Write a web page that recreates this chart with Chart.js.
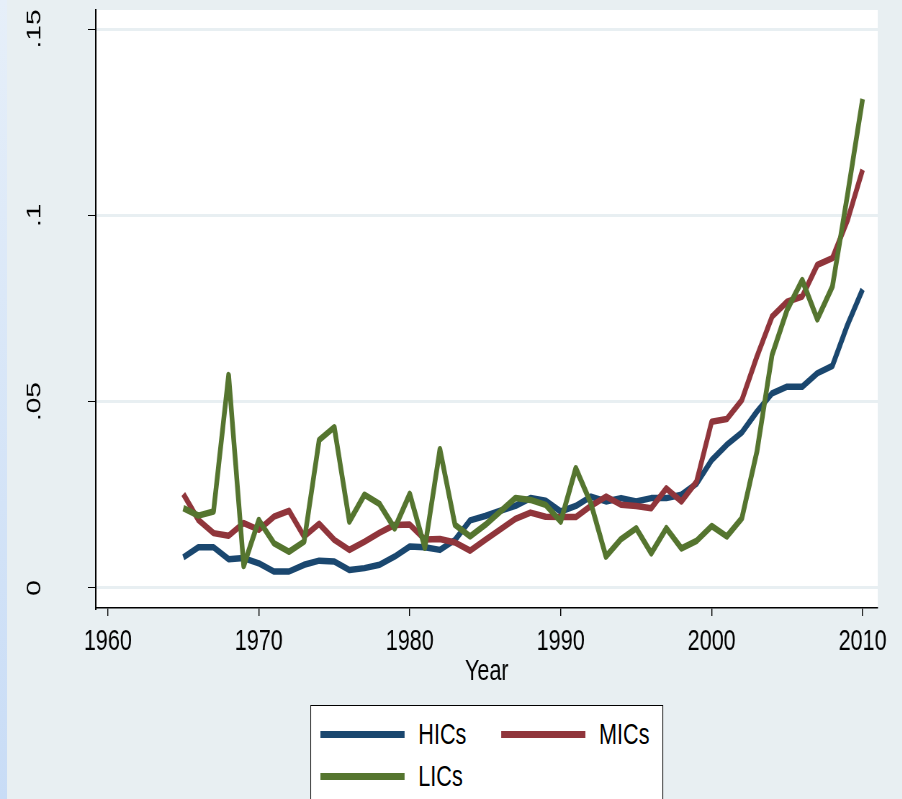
<!DOCTYPE html>
<html>
<head>
<meta charset="utf-8">
<script src="https://cdn.jsdelivr.net/npm/chart.js@4.4.1/dist/chart.umd.min.js"></script>
<style>
  html, body { margin: 0; padding: 0; }
  body {
    width: 902px; height: 799px; overflow: hidden; position: relative;
    background: #e8eff2;
    font-family: "Liberation Sans", Arial, sans-serif;
  }
  #edge {
    position: absolute; left: 0; top: 0; width: 7px; height: 799px;
    background: linear-gradient(to bottom, #e6eff9, #c8dcf6);
  }
  /* the reference is squeezed horizontally, so draw wide and scale down */
  #wrap {
    position: absolute; left: 0; top: 0; width: 1253px; height: 799px;
    transform: scaleX(0.72); transform-origin: 0 0;
  }
  #chart { position: absolute; left: 0; top: 0; }
  #legend {
    position: absolute; left: 431px; top: 705px; width: 490px; height: 120px;
    background: #fff; border: 1.4px solid #000; box-sizing: border-box;
  }
  .item { position: absolute; height: 34px; display: flex; align-items: center; }
  .swatch { width: 117px; height: 7px; margin-right: 19px; }
  .label { font-size: 30px; color: #000; white-space: nowrap; }
</style>
</head>
<body>
<div id="edge"></div>
<div id="wrap">
  <canvas id="chart" width="1253" height="700"></canvas>
  <div id="legend"></div>
</div>
<script>
// data
const years = [1965, 1966, 1967, 1968, 1969, 1970, 1971, 1972, 1973, 1974,
  1975, 1976, 1977, 1978, 1979, 1980, 1981, 1982, 1983, 1984,
  1985, 1986, 1987, 1988, 1989, 1990, 1991, 1992, 1993, 1994,
  1995, 1996, 1997, 1998, 1999, 2000, 2001, 2002, 2003, 2004,
  2005, 2006, 2007, 2008, 2009, 2010];

const hics = [0.0082, 0.0109, 0.0109, 0.0077, 0.0080, 0.0066, 0.0044, 0.0044, 0.0062, 0.0073,
  0.0071, 0.0048, 0.0053, 0.0062, 0.0084, 0.0111, 0.0109, 0.0102, 0.0129, 0.0181,
  0.0193, 0.0207, 0.0220, 0.0241, 0.0234, 0.0205, 0.0220, 0.0245, 0.0232, 0.0241,
  0.0232, 0.0241, 0.0241, 0.0250, 0.0280, 0.0343, 0.0384, 0.0417, 0.0473, 0.0522,
  0.0540, 0.0540, 0.0576, 0.0596, 0.0706, 0.0801];

const mics = [0.0252, 0.0182, 0.0147, 0.0140, 0.0174, 0.0156, 0.0191, 0.0207, 0.0138, 0.0172,
  0.0129, 0.0102, 0.0124, 0.0148, 0.0169, 0.0170, 0.0130, 0.0131, 0.0122, 0.0100,
  0.0129, 0.0157, 0.0185, 0.0202, 0.0191, 0.0190, 0.0190, 0.0220, 0.0245, 0.0223,
  0.0220, 0.0214, 0.0267, 0.0232, 0.0285, 0.0446, 0.0453, 0.0504, 0.0621, 0.0728,
  0.0768, 0.0782, 0.0867, 0.0885, 0.0987, 0.1122];

const lics = [0.0214, 0.0194, 0.0205, 0.0571, 0.0059, 0.0182, 0.0120, 0.0097, 0.0124, 0.0397,
  0.0431, 0.0178, 0.0250, 0.0225, 0.0160, 0.0252, 0.0108, 0.0372, 0.0169, 0.0138,
  0.0169, 0.0205, 0.0241, 0.0236, 0.0223, 0.0178, 0.0321, 0.0227, 0.0084, 0.0131,
  0.0160, 0.0093, 0.0160, 0.0106, 0.0126, 0.0166, 0.0138, 0.0187, 0.0366, 0.0625,
  0.0746, 0.0826, 0.0721, 0.0809, 0.1055, 0.1312];

const xTicks = [1960, 1970, 1980, 1990, 2000, 2010];
const yTicks = [0, 0.05, 0.1, 0.15];
const yTickLabels = ["0", ".05", ".1", ".15"];

const FONT = '"Liberation Sans", Arial, sans-serif';

function pts(vals) {
  return years.map((y, i) => ({ x: y, y: vals[i] }));
}

// white plot region
const plotBg = {
  id: 'plotBg',
  beforeDraw(chart) {
    const a = chart.chartArea, c = chart.ctx;
    c.save();
    c.fillStyle = '#ffffff';
    c.fillRect(a.left, a.top, a.right - a.left, a.bottom - a.top);
    c.restore();
  }
};

const ctx = document.getElementById('chart').getContext('2d');
const chart = new Chart(ctx, {
  type: 'line',
  data: {
    datasets: [
      { label: 'HICs', data: pts(hics), borderColor: '#1a476f', order: 3 },
      { label: 'MICs', data: pts(mics), borderColor: '#90353b', order: 2 },
      { label: 'LICs', data: pts(lics), borderColor: '#55752f', order: 1 }
    ]
  },
  options: {
    responsive: false,
    animation: false,
    devicePixelRatio: 1,
    layout: { padding: { top: 10, right: 34, left: 0, bottom: 0 } },
    elements: {
      line: { borderWidth: 6.5, tension: 0, borderJoinStyle: 'round', fill: false },
      point: { radius: 0 }
    },
    plugins: {
      legend: { display: false },
      tooltip: { enabled: false }
    },
    scales: {
      x: {
        type: 'linear',
        min: 1959.2,
        max: 2011,
        afterBuildTicks: s => { s.ticks = xTicks.map(v => ({ value: v })); },
        afterFit: s => { s.height = 92; s.paddingLeft = 0; s.paddingRight = 0; },
        grid: { drawOnChartArea: false, drawTicks: true, tickLength: 8, color: '#000', lineWidth: 1.4 },
        border: { display: true, color: '#000', width: 1.6 },
        ticks: {
          autoSkip: false, maxRotation: 0, padding: 8,
          color: '#000', font: { family: FONT, size: 30 },
          callback: v => String(v)
        },
        title: {
          display: true, text: 'Year', color: '#000',
          font: { family: FONT, size: 30 }, padding: { top: 0, bottom: 10 }
        }
      },
      y: {
        type: 'linear',
        min: -0.0054,
        max: 0.1551,
        afterBuildTicks: s => { s.ticks = yTicks.map(v => ({ value: v })); },
        afterFit: s => { s.width = 133; s.paddingTop = 0; s.paddingBottom = 0; },
        grid: { color: '#e8eff2', lineWidth: 3, drawTicks: true, tickLength: 11, tickColor: '#000', tickWidth: 1 },
        border: { display: true, color: '#000', width: 2 },
        ticks: {
          autoSkip: false, minRotation: 90, maxRotation: 90, crossAlign: 'center', padding: 54,
          color: '#000', font: { family: FONT, size: 28 },
          callback: (v, i) => yTickLabels[i]
        }
      }
    }
  },
  plugins: [plotBg]
});

// legend box below the plot, built from the chart's datasets
const legend = document.getElementById('legend');
chart.data.datasets.forEach((ds, i) => {
  const item = document.createElement('div');
  item.className = 'item';
  item.style.left = (13 + (i % 2) * 251) + 'px';
  item.style.top = (11 + Math.floor(i / 2) * 42) + 'px';
  const sw = document.createElement('div');
  sw.className = 'swatch';
  sw.style.background = ds.borderColor;
  const lb = document.createElement('span');
  lb.className = 'label';
  lb.textContent = ds.label;
  item.appendChild(sw);
  item.appendChild(lb);
  legend.appendChild(item);
});
</script>
</body>
</html>
